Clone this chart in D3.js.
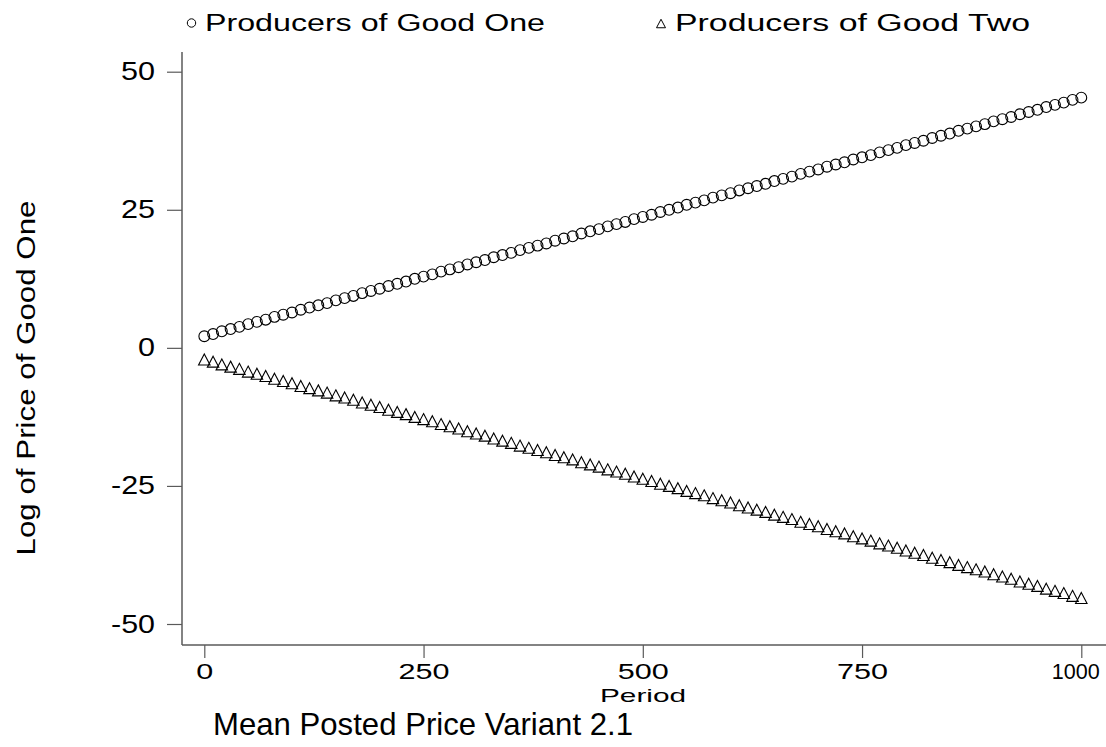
<!DOCTYPE html>
<html>
<head>
<meta charset="utf-8">
<script src="https://cdn.jsdelivr.net/npm/d3@7"></script>
<style>
  html, body { margin: 0; padding: 0; background: #fff; }
  svg { display: block; font-family: "Liberation Sans", Arial, sans-serif; }
</style>
</head>
<body>
<svg id="chart" width="1106" height="747"></svg>
<script>
// Simulation periods (every 10th period is plotted)
const periods = [
  0, 10, 20, 30, 40, 50, 60, 70, 80, 90,
  100, 110, 120, 130, 140, 150, 160, 170, 180, 190,
  200, 210, 220, 230, 240, 250, 260, 270, 280, 290,
  300, 310, 320, 330, 340, 350, 360, 370, 380, 390,
  400, 410, 420, 430, 440, 450, 460, 470, 480, 490,
  500, 510, 520, 530, 540, 550, 560, 570, 580, 590,
  600, 610, 620, 630, 640, 650, 660, 670, 680, 690,
  700, 710, 720, 730, 740, 750, 760, 770, 780, 790,
  800, 810, 820, 830, 840, 850, 860, 870, 880, 890,
  900, 910, 920, 930, 940, 950, 960, 970, 980, 990,
  1000
];

// Mean log posted price, producers of good one
const goodOne = [
  2.1, 2.5, 3.0, 3.4, 3.8, 4.3, 4.7, 5.1, 5.6, 6.0,
  6.4, 6.9, 7.3, 7.7, 8.1, 8.6, 9.0, 9.4, 9.9, 10.3,
  10.7, 11.2, 11.6, 12.0, 12.5, 12.9, 13.3, 13.8, 14.2, 14.6,
  15.1, 15.5, 15.9, 16.4, 16.8, 17.2, 17.7, 18.1, 18.5, 18.9,
  19.4, 19.8, 20.2, 20.7, 21.1, 21.5, 22.0, 22.4, 22.8, 23.3,
  23.7, 24.1, 24.6, 25.0, 25.4, 25.9, 26.3, 26.7, 27.2, 27.6,
  28.0, 28.5, 28.9, 29.3, 29.7, 30.2, 30.6, 31.0, 31.5, 31.9,
  32.3, 32.8, 33.2, 33.6, 34.1, 34.5, 34.9, 35.4, 35.8, 36.2,
  36.7, 37.1, 37.5, 38.0, 38.4, 38.8, 39.3, 39.7, 40.1, 40.5,
  41.0, 41.4, 41.8, 42.3, 42.7, 43.1, 43.6, 44.0, 44.4, 44.9,
  45.3
];

// Mean log posted price, producers of good two
const goodTwo = [
  -2.1, -2.5, -3.0, -3.4, -3.8, -4.3, -4.7, -5.1, -5.6, -6.0,
  -6.4, -6.9, -7.3, -7.7, -8.1, -8.6, -9.0, -9.4, -9.9, -10.3,
  -10.7, -11.2, -11.6, -12.0, -12.5, -12.9, -13.3, -13.8, -14.2, -14.6,
  -15.1, -15.5, -15.9, -16.4, -16.8, -17.2, -17.7, -18.1, -18.5, -18.9,
  -19.4, -19.8, -20.2, -20.7, -21.1, -21.5, -22.0, -22.4, -22.8, -23.3,
  -23.7, -24.1, -24.6, -25.0, -25.4, -25.9, -26.3, -26.7, -27.2, -27.6,
  -28.0, -28.5, -28.9, -29.3, -29.7, -30.2, -30.6, -31.0, -31.5, -31.9,
  -32.3, -32.8, -33.2, -33.6, -34.1, -34.5, -34.9, -35.4, -35.8, -36.2,
  -36.7, -37.1, -37.5, -38.0, -38.4, -38.8, -39.3, -39.7, -40.1, -40.5,
  -41.0, -41.4, -41.8, -42.3, -42.7, -43.1, -43.6, -44.0, -44.4, -44.9,
  -45.3
];

const xTicks = [0, 250, 500, 750, 1000];
const yTicks = [-50, -25, 0, 25, 50];
const seriesNames = ["Producers of Good One", "Producers of Good Two"];
const xTitle = "Period";
const yTitle = "Log of Price of Good One";
const chartTitle = "Mean Posted Price Variant 2.1";

const svg = d3.select("#chart");
const axisColor = "#5a5a5a";
const fontFamily = "Liberation Sans, Arial, sans-serif";

const x = d3.scaleLinear().domain([0, 1000]).range([204.3, 1081.3]);
const y = d3.scaleLinear().domain([-50, 50]).range([624, 71.7]);

// Plot region edges
const plotLeft = 182, plotBottom = 645, plotTop = 52, plotRight = 1106;

// Triangle path centred on its bounding box
function triPath(w, h) {
  return `M0,${-h / 2}L${w / 2},${h / 2}L${-w / 2},${h / 2}Z`;
}

const fmt = d => String(d);   // plain hyphen for negatives

// Rendered width of a numeric label: digits and minus sign
function labelWidth(s, digitW, minusW) {
  let w = 0;
  for (const ch of s) w += ch === "-" ? minusW : digitW;
  return w;
}

// Y axis
const yAxis = d3.axisLeft(y).tickValues(yTicks).tickSize(15).tickPadding(12).tickFormat(fmt);
const gy = svg.append("g").attr("transform", `translate(${plotLeft},0)`).call(yAxis);
gy.select(".domain").remove();
gy.selectAll(".tick line").attr("stroke", axisColor).attr("stroke-width", 1.2);
gy.selectAll(".tick text")
  .attr("font-size", 25).attr("fill", "#000").attr("font-family", fontFamily)
  .attr("textLength", d => labelWidth(fmt(d), 17, 10))
  .attr("lengthAdjust", "spacingAndGlyphs");
svg.append("line")
  .attr("x1", plotLeft).attr("x2", plotLeft)
  .attr("y1", plotTop).attr("y2", plotBottom)
  .attr("stroke", axisColor).attr("stroke-width", 1.5);

// X axis
const xAxis = d3.axisBottom(x).tickValues(xTicks).tickSize(13).tickPadding(5).tickFormat(fmt);
const gx = svg.append("g").attr("transform", `translate(0,${plotBottom})`).call(xAxis);
gx.select(".domain").remove();
gx.selectAll(".tick line").attr("stroke", axisColor).attr("stroke-width", 1.2);
gx.selectAll(".tick text")
  .attr("font-size", 22).attr("fill", "#000").attr("font-family", fontFamily)
  .attr("textLength", d => fmt(d).length > 3 ? 48 : labelWidth(fmt(d), 17, 10))
  .attr("lengthAdjust", "spacingAndGlyphs");
// the widest label is nudged left to stay inside the right edge
gx.selectAll(".tick text").filter(d => fmt(d).length > 3).attr("x", -6);
svg.append("line")
  .attr("x1", plotLeft).attr("x2", plotRight)
  .attr("y1", plotBottom).attr("y2", plotBottom)
  .attr("stroke", axisColor).attr("stroke-width", 1.5);

// Series markers
const pts = periods.map((p, i) => ({ p, a: goodOne[i], b: goodTwo[i] }));

svg.append("g").selectAll("circle").data(pts).join("circle")
  .attr("cx", d => x(d.p)).attr("cy", d => y(d.a)).attr("r", 5.4)
  .attr("fill", "none").attr("stroke", "#000").attr("stroke-width", 1.1);

svg.append("g").selectAll("path").data(pts).join("path")
  .attr("d", triPath(11.5, 11))
  .attr("transform", d => `translate(${x(d.p)},${y(d.b)})`)
  .attr("fill", "none").attr("stroke", "#000").attr("stroke-width", 1.1);

// Legend
const legend = svg.append("g");
legend.append("circle").attr("cx", 191.5).attr("cy", 23).attr("r", 4.2)
  .attr("fill", "none").attr("stroke", "#000").attr("stroke-width", 1);
legend.append("text").attr("x", 205).attr("y", 31).attr("font-size", 23)
  .attr("textLength", 340).attr("lengthAdjust", "spacingAndGlyphs")
  .text(seriesNames[0]);
legend.append("path").attr("d", triPath(9, 8.5))
  .attr("transform", "translate(661,23.5)")
  .attr("fill", "none").attr("stroke", "#000").attr("stroke-width", 1);
legend.append("text").attr("x", 675).attr("y", 31).attr("font-size", 23)
  .attr("textLength", 355).attr("lengthAdjust", "spacingAndGlyphs")
  .text(seriesNames[1]);

// Axis titles
svg.append("text").attr("x", 643).attr("y", 702).attr("text-anchor", "middle")
  .attr("font-size", 19).attr("textLength", 86).attr("lengthAdjust", "spacingAndGlyphs")
  .text(xTitle);
svg.append("text")
  .attr("transform", "translate(35,378) rotate(-90)")
  .attr("text-anchor", "middle").attr("font-size", 25)
  .attr("textLength", 355).attr("lengthAdjust", "spacingAndGlyphs")
  .text(yTitle);

// Chart title
svg.append("text").attr("x", 423).attr("y", 735).attr("text-anchor", "middle")
  .attr("font-size", 32).attr("textLength", 420).attr("lengthAdjust", "spacingAndGlyphs")
  .text(chartTitle);
</script>
</body>
</html>
